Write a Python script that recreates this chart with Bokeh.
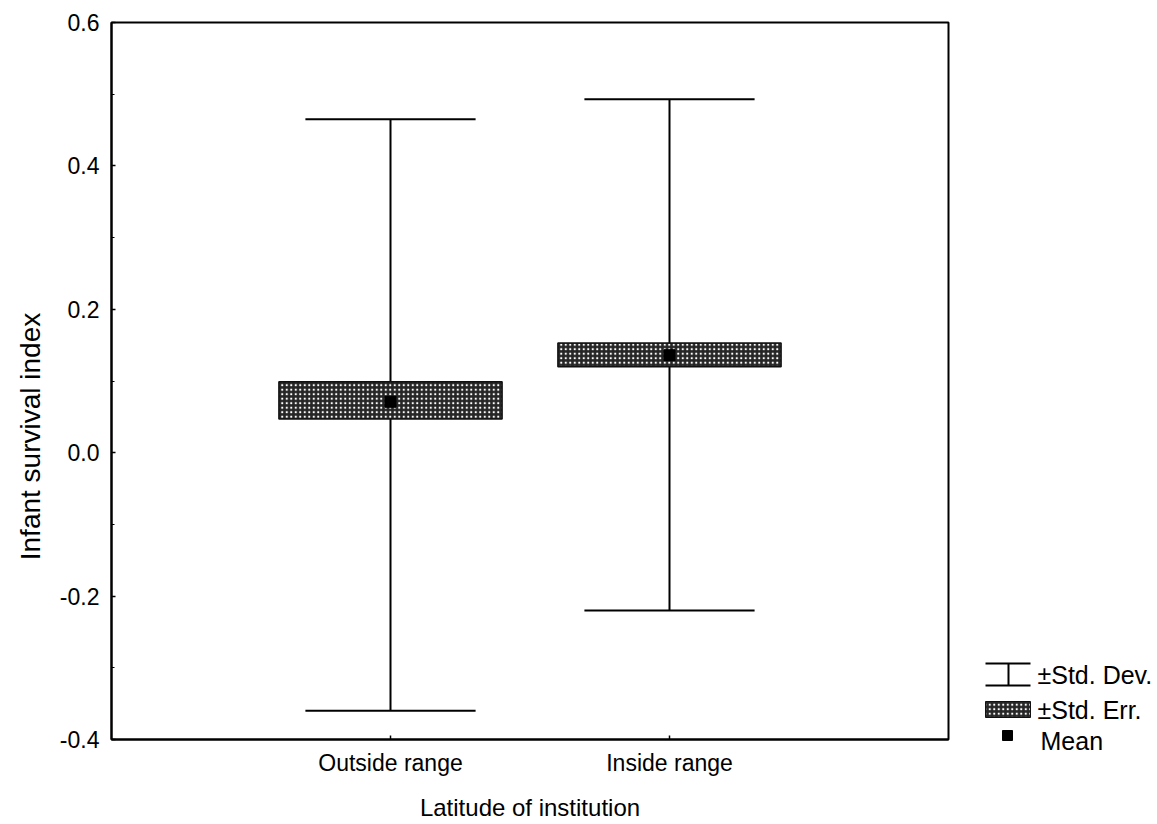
from bokeh.plotting import figure
from bokeh.layouts import row
from bokeh.models import ColumnDataSource, FactorRange, Range1d, FixedTicker, PrintfTickFormatter
from bokeh.transform import dodge
from bokeh.core.properties import value
from bokeh.embed import file_html
from bokeh.resources import INLINE

# Infant survival index by latitude of institution
categories = ["Outside range", "Inside range"]
mean = [0.071, 0.136]
se_low = [0.047, 0.120]
se_high = [0.099, 0.153]
sd_low = [-0.360, -0.220]
sd_high = [0.465, 0.493]

y_ticks = [-0.4, -0.2, 0.0, 0.2, 0.4, 0.6]
y_minor_ticks = [-0.3, -0.1, 0.1, 0.3, 0.5]

x_title = "Latitude of institution"
y_title = "Infant survival index"
legend_labels = ["\u00b1Std. Dev.", "\u00b1Std. Err.", "Mean"]

FONT = "Liberation Sans"
TICK_FS = "23px"
TITLE_FS = "24px"
Y_TITLE_FS = "28px"
LEGEND_FS = "25px"

BOX_FILL = "#262626"

src = ColumnDataSource(dict(cat=categories, mean=mean, se_low=se_low, se_high=se_high,
                            sd_low=sd_low, sd_high=sd_high))

H = 824
LEFT_W = 50          # strip holding the vertical axis title
MAIN_W = 910         # main plot, frame starts at x=111 of the page
LEG_W = 1157 - LEFT_W - MAIN_W
FRAME_TOP, FRAME_BOTTOM = 22, 739

x_range = FactorRange(*categories, range_padding=0.5)
y_range = Range1d(y_ticks[0], y_ticks[-1])

p = figure(width=MAIN_W, height=H, x_range=x_range, y_range=y_range,
           output_backend="svg", toolbar_location=None, frame_align=False,
           min_border_left=111 - LEFT_W, min_border_right=12,
           min_border_top=FRAME_TOP, min_border_bottom=H - FRAME_BOTTOM)
p.background_fill_color = "white"
p.border_fill_color = "white"
p.outline_line_color = "black"
p.outline_line_width = 2
p.xgrid.visible = False
p.ygrid.visible = False

p.yaxis.ticker = FixedTicker(ticks=y_ticks, minor_ticks=y_minor_ticks)
p.yaxis.formatter = PrintfTickFormatter(format="%.1f")
for ax in (p.xaxis[0], p.yaxis[0]):
    ax.axis_line_color = "black"
    ax.axis_line_width = 2
    ax.major_tick_in = 4
    ax.major_tick_out = 0
    ax.major_tick_line_color = "black"
    ax.major_tick_line_width = 1.5
    ax.major_label_text_font = FONT
    ax.major_label_text_font_size = TICK_FS
    ax.major_label_text_color = "black"
p.yaxis.major_label_standoff = 12
p.xaxis.major_label_standoff = 10
p.yaxis.minor_tick_in = 3
p.yaxis.minor_tick_out = 0
p.yaxis.minor_tick_line_color = "black"
p.yaxis.minor_tick_line_width = 1.2

p.xaxis.axis_label = x_title
p.xaxis.axis_label_text_font = FONT
p.xaxis.axis_label_text_font_size = TITLE_FS
p.xaxis.axis_label_text_font_style = "normal"
p.xaxis.axis_label_text_color = "black"
p.xaxis.axis_label_standoff = 15

# ±SD whiskers and caps
p.segment(x0="cat", y0="sd_low", x1="cat", y1="sd_high", source=src,
          line_color="black", line_width=2)
for col in ("sd_low", "sd_high"):
    p.segment(x0=dodge("cat", -0.305, range=x_range), y0=col,
              x1=dodge("cat", 0.305, range=x_range), y1=col, source=src,
              line_color="black", line_width=2)

# ±SE boxes
p.vbar(x="cat", width=0.8, bottom="se_low", top="se_high", source=src,
       fill_color=BOX_FILL, line_color="#111111", line_width=1.5,
       hatch_pattern="dot", hatch_color="white", hatch_scale=4.5, hatch_weight=2.2)

# means
p.scatter(x="cat", y="mean", source=src, marker="square", size=11, color="black")


def page_panel(width, x0):
    """A bare panel whose data coordinates are page pixels (y grows downward)."""
    f = figure(width=width, height=H, x_range=Range1d(x0, x0 + width),
               y_range=Range1d(H, 0), frame_align=False,
               output_backend="svg", toolbar_location=None,
               x_axis_type=None, y_axis_type=None, min_border=0)
    f.outline_line_color = None
    f.xgrid.visible = False
    f.ygrid.visible = False
    return f


# vertical axis title
left = page_panel(LEFT_W, 0)
left.text(x=[30], y=[436], text=[y_title], angle=1.5708,
          text_font=value(FONT), text_font_size=value(Y_TITLE_FS), text_color="black",
          text_baseline="middle", text_align="center")

# legend
lg = page_panel(LEG_W, LEFT_W + MAIN_W)
lg.segment(x0=[985, 985, 1008], y0=[663, 685, 663], x1=[1030, 1030, 1008], y1=[663, 685, 685],
           line_color="black", line_width=2)
lg.quad(left=[985], right=[1030], top=[701], bottom=[717],
        fill_color=BOX_FILL, line_color="#111111", line_width=1,
        hatch_pattern="dot", hatch_color="white", hatch_scale=4.5, hatch_weight=2.2)
lg.scatter(x=[1007], y=[735], marker="square", size=10, color="black")
lg.text(x=[1037, 1037, 1040], y=[674, 709, 740], text=legend_labels,
        text_font=value(FONT), text_font_size=value(LEGEND_FS), text_color="black",
        text_baseline="middle", text_align="left")

layout = row(left, p, lg, spacing=0)
open("out.html", "w").write(file_html(layout, INLINE))
